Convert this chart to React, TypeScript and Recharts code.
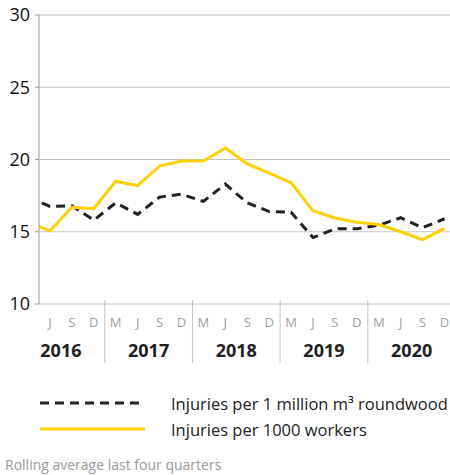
import { Line, LineChart, XAxis, YAxis, CartesianGrid } from "recharts"

// quarter labels, index 0 (M 2016) sits behind the y axis and is clipped
const quarters = ["M", "J", "S", "D", "M", "J", "S", "D", "M", "J", "S", "D", "M", "J", "S", "D", "M", "J", "S", "D"]
const years = ["2016", "2017", "2018", "2019", "2020"]
const perMillionM3 = [17.4, 16.75, 16.8, 15.8, 17.0, 16.2, 17.4, 17.6, 17.1, 18.3, 17.0, 16.4, 16.35, 14.6, 15.2, 15.2, 15.45, 15.97, 15.28, 15.9]
const per1000Workers = [15.7, 15.05, 16.7, 16.6, 18.5, 18.2, 19.55, 19.9, 19.9, 20.8, 19.7, 19.05, 18.4, 16.45, 15.95, 15.65, 15.5, 15.0, 14.45, 15.22]
const yTicks = [10, 15, 20, 25, 30]

const data = quarters.map((q, i) => ({ i, q, m3: perMillionM3[i], workers: per1000Workers[i] }))
const xTicks = data.slice(1).map((d) => d.i)

const FONT = "'Open Sans', sans-serif"
const X_DOMAIN = [0.5, 19.25]
const PLOT_W = 411
const SLOT = PLOT_W / (X_DOMAIN[1] - X_DOMAIN[0])

function QuarterTick(props: any) {
    const { x, y, payload } = props
    const i = payload.value
    const half = SLOT / 2
    return (
        <g>
            <text x={x} y={y + 18} textAnchor="middle" dominantBaseline="central" fill="#a0a0a0" fontSize={13} fontFamily={FONT}>
                {quarters[i]}
            </text>
            {i % 4 === 0 && <line x1={x - half} x2={x - half} y1={y - 4} y2={y + 59} stroke="#c4c4c4" strokeWidth={1} />}
            {i % 4 === 1 && (
                <text x={x + half} y={y + 46} textAnchor="middle" dominantBaseline="central" fill="#222" fontSize={18} fontWeight={700} fontFamily={FONT}>
                    {years[Math.floor(i / 4)]}
                </text>
            )}
        </g>
    )
}

export default function App() {
    return (
        <div style={{ position: "absolute", left: 0, top: 0, width: 450, height: 475, background: "#fff", fontFamily: FONT }}>
            <LineChart width={450} height={370} data={data} margin={{ top: 15, right: 0, left: 0, bottom: 0 }}>
                <CartesianGrid vertical={false} stroke="#c4c4c4" />
                <XAxis
                    dataKey="i"
                    type="number"
                    domain={X_DOMAIN}
                    allowDataOverflow
                    ticks={xTicks}
                    interval={0}
                    axisLine={false}
                    tickLine={false}
                    tickSize={0}
                    tickMargin={0}
                    height={66}
                    tick={<QuarterTick />}
                />
                <YAxis
                    domain={[10, 30]}
                    ticks={yTicks}
                    width={39}
                    allowDataOverflow
                    stroke="#9a9a9a"
                    tickSize={4}
                    tickMargin={5}
                    tick={{ fill: "#111", fontSize: 18, fontFamily: FONT }}
                />
                <Line
                    dataKey="m3"
                    type="linear"
                    stroke="#222"
                    strokeWidth={3}
                    strokeDasharray="9 6"
                    dot={false}
                    isAnimationActive={false}
                />
                <Line
                    dataKey="workers"
                    type="linear"
                    stroke="#FFD000"
                    strokeWidth={3}
                    dot={false}
                    isAnimationActive={false}
                />
            </LineChart>
            <svg width={450} height={105} style={{ position: "absolute", left: 0, top: 370 }}>
                <line x1={40} x2={143} y1={33} y2={33} stroke="#222" strokeWidth={3} strokeDasharray="9 6" />
                <text x={171} y={33} dominantBaseline="central" fontSize={16.5} fill="#222" fontFamily={FONT}>
                    Injuries per 1 million m³ roundwood
                </text>
                <line x1={40} x2={145} y1={59} y2={59} stroke="#FFD000" strokeWidth={3} />
                <text x={171} y={59} dominantBaseline="central" fontSize={16.5} fill="#222" fontFamily={FONT}>
                    Injuries per 1000 workers
                </text>
                <text x={5} y={94} dominantBaseline="central" fontSize={14} fill="#999" fontFamily={FONT}>
                    Rolling average last four quarters
                </text>
            </svg>
        </div>
    )
}
